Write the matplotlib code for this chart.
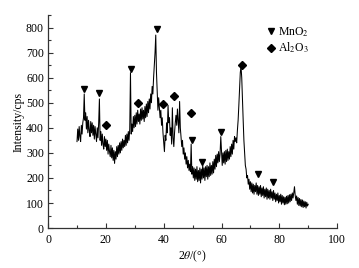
import numpy as np
import matplotlib.pyplot as plt
from matplotlib.lines import Line2D

plt.rcParams['font.family'] = ['Liberation Serif', 'DejaVu Serif']
plt.rcParams['mathtext.fontset'] = 'stix'

# XRD pattern, 2theta from 10 to 90 deg every 0.25 deg
two_theta = np.arange(10, 90.001, 0.25)
intensity = [
    345, 395, 350, 405, 365, 345, 410, 375, 420, 440, 535, 430, 460, 395, 445, 380, 430, 390, 365, 425,   # 10
    380, 420, 370, 410, 355, 405, 375, 345, 400, 360, 420, 515, 350, 385, 330, 375, 335, 315, 365, 325,   # 15
    355, 310, 350, 295, 335, 305, 285, 330, 280, 320, 270, 310, 258, 305, 275, 325, 285, 330, 295, 340,   # 20
    300, 345, 310, 355, 320, 350, 325, 370, 330, 375, 340, 385, 350, 395, 620, 375, 415, 385, 445, 400,   # 25
    450, 405, 460, 415, 470, 425, 455, 415, 475, 430, 480, 435, 470, 425, 485, 440, 495, 445, 505, 460,   # 30
    515, 475, 535, 500, 565, 535, 600, 650, 700, 770, 620, 540, 470, 520, 480, 440, 470, 410, 440, 380,   # 35
    340, 305, 370, 350, 420, 380, 490, 420, 440, 370, 400, 335, 480, 360, 325, 380, 420, 450, 410, 475,   # 40
    430, 380, 505, 400, 360, 325, 350, 295, 320, 275, 300, 255, 285, 240, 270, 230, 255, 225, 335, 215,   # 45
    245, 200, 240, 190, 235, 195, 245, 185, 230, 190, 240, 180, 235, 195, 250, 200, 240, 190, 245, 205,   # 50
    250, 195, 245, 205, 260, 210, 250, 215, 265, 220, 275, 235, 290, 245, 295, 260, 305, 265, 295, 365,   # 55
    305, 250, 300, 260, 305, 255, 310, 265, 315, 270, 305, 275, 325, 285, 335, 295, 350, 315, 365, 345,   # 60
    360, 340, 390, 430, 490, 560, 620, 645, 600, 510, 430, 350, 300, 250, 235, 200, 210, 175, 195, 155,   # 65
    185, 145, 180, 140, 175, 135, 170, 145, 180, 135, 170, 130, 165, 135, 170, 125, 160, 130, 165, 120,   # 70
    155, 125, 160, 115, 155, 120, 150, 115, 155, 120, 145, 110, 150, 115, 140, 105, 135, 110, 140, 100,   # 75
    130, 105, 135, 95, 130, 100, 125, 93, 123, 95, 127, 97, 130, 100, 133, 105, 135, 110, 140, 120,       # 80
    140, 165, 130, 110, 128, 95, 122, 90, 118, 88, 114, 85, 112, 82, 108, 85, 105, 80, 103, 88,           # 85
    95,                                                                                                   # 90
]

# phase markers
mno2_x = [12.5, 17.7, 28.6, 37.7, 49.8, 53.3, 59.9, 72.7, 77.9]
mno2_y = [556, 538, 636, 796, 350, 264, 384, 216, 184]
al2o3_x = [20.1, 31.1, 39.9, 43.5, 49.5, 67.1]
al2o3_y = [412, 500, 496, 526, 460, 652]

fig = plt.figure(figsize=(3.59, 2.68), dpi=100)
ax = fig.add_axes([0.134, 0.149, 0.805, 0.795])

ax.plot(two_theta, intensity, color='black', lw=0.75)
ax.plot(mno2_x, mno2_y, 'kv', ms=5, ls='None')
ax.plot(al2o3_x, al2o3_y, 'kD', ms=4.2, ls='None')

ax.set_xlim(0, 100)
ax.set_ylim(0, 850)
ax.set_xticks([0, 20, 40, 60, 80, 100])
ax.set_xticks(np.arange(10, 100, 20), minor=True)
ax.set_yticks(np.arange(0, 801, 100))
ax.set_yticks(np.arange(50, 851, 100), minor=True)
ax.tick_params(direction='in', labelsize=8.5, length=3.5, width=0.8, colors='#333333', labelcolor='black')
ax.tick_params(which='minor', direction='in', length=2, width=0.8, colors='#333333')
ax.tick_params(axis='x', pad=4)
ax.tick_params(axis='y', pad=3)

for s in ['top', 'right']:
    ax.spines[s].set_visible(False)
for s in ['left', 'bottom']:
    ax.spines[s].set_linewidth(0.9)
    ax.spines[s].set_color('#333333')

ax.set_ylabel('Intensity/cps', fontsize=8.5, labelpad=1)
ax.set_xlabel(r'2$\it{\theta}$/(°)', fontsize=8.5, labelpad=2)

handles = [Line2D([], [], color='k', marker='v', ms=5, ls='None'),
           Line2D([], [], color='k', marker='D', ms=4.2, ls='None')]
ax.legend(handles, ['MnO$_2$', 'Al$_2$O$_3$'], loc='upper left',
          bbox_to_anchor=(0.725, 0.995), frameon=False, fontsize=8.5,
          handlelength=0.6, handletextpad=0.3, labelspacing=0.15, borderpad=0.3)

fig.savefig('out.png', dpi=100)
